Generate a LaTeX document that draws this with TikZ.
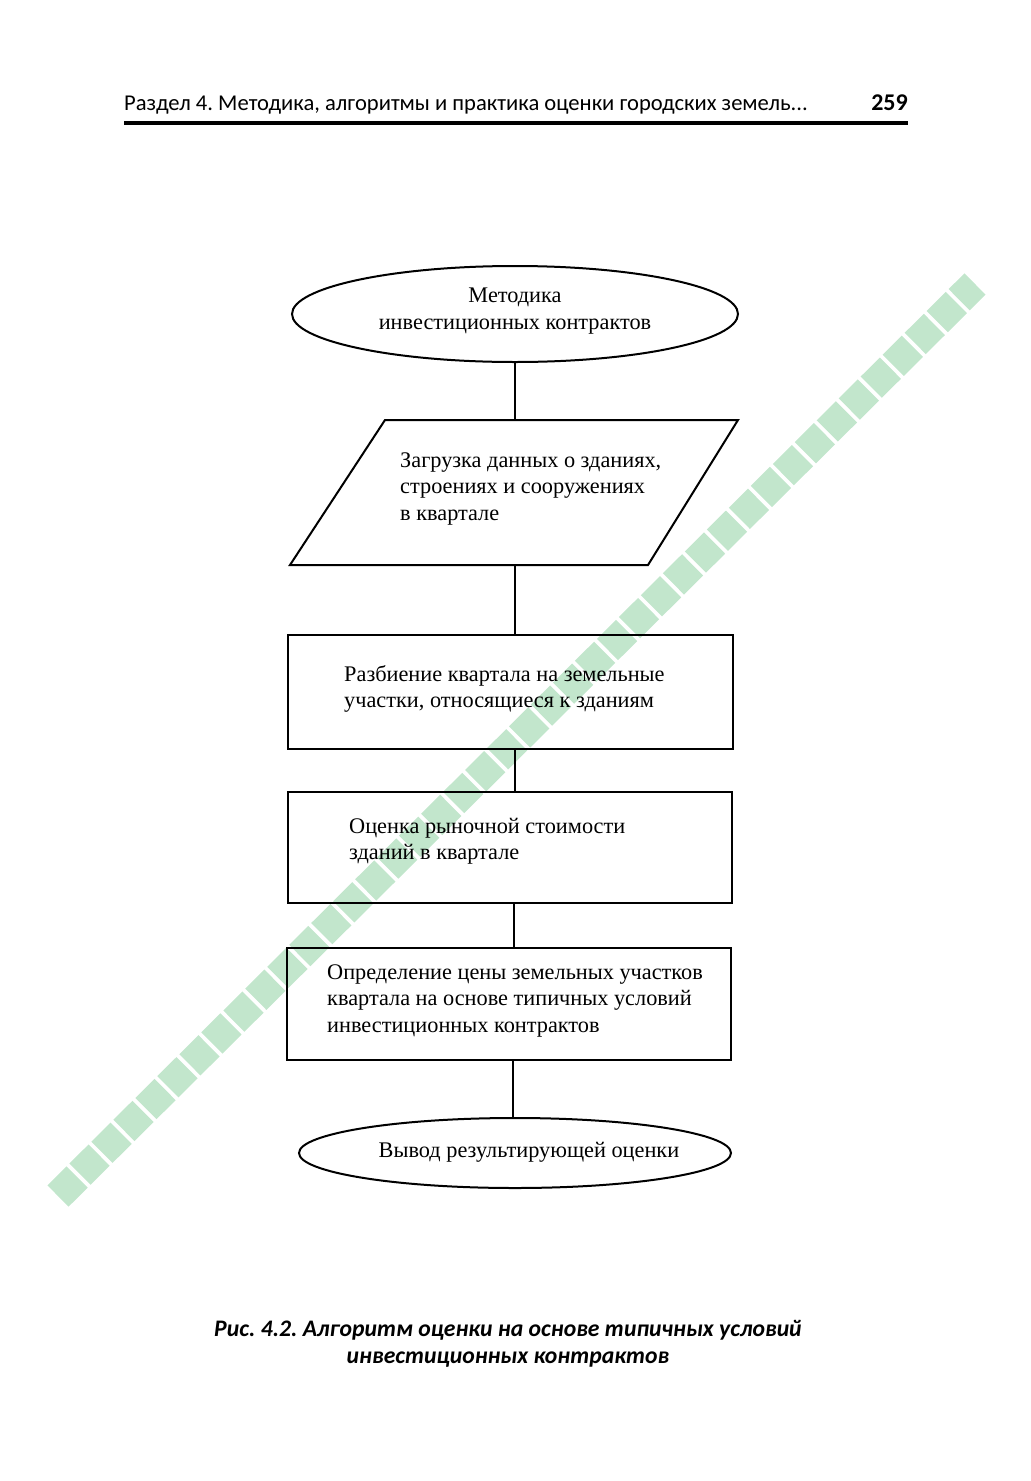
\documentclass[tikz,border=0pt]{standalone}
\usepackage{fontspec}
\setmainfont{Liberation Serif}
\newfontfamily\headfont{Carlito}
\usetikzlibrary{shapes.geometric}
\definecolor{wmgreen}{RGB}{194,230,204}
\tikzset{
  shapeline/.style={draw=black, line width=2pt},
  boxnode/.style={shapeline, rectangle, inner sep=0pt},
  ovalnode/.style={shapeline, ellipse, inner sep=0pt},
  bodytext/.style={font=\fontsize{22.3}{26.5}\selectfont, align=left, inner sep=0pt},
  conn/.style={draw=black, line width=1.6pt},
  wm/.style={draw=wmgreen, line width=30pt, dash pattern=on 27pt off 4pt},
}
\begin{document}
\frenchspacing
\begin{tikzpicture}[x=1pt,y=-1pt]
\useasboundingbox (0,0) rectangle (1031,1481);
% watermark
\coordinate (wmA) at (58,1196);
\coordinate (wmB) at (975,284);
\draw[wm] (wmA) -- (wmB);
% header
\node[anchor=base west, inner sep=0pt, font=\headfont\fontsize{22.6}{26}\selectfont] (head) at (124,110) {Раздел 4. Методика, алгоритмы и практика оценки городских земель...};
\node[anchor=base east, inner sep=0pt, font=\headfont\bfseries\fontsize{24}{26}\selectfont] (pnum) at (908,110) {259};
\coordinate (ruleA) at (124,123);
\coordinate (ruleB) at (908,123);
\draw[line width=3.5pt] (ruleA) -- (ruleB);
% top ellipse
\node[ovalnode, minimum width=446pt, minimum height=96pt] (e1) at (515,314) {};
\node[bodytext, align=center] (e1t) at (515,311) {Методика\\инвестиционных контрактов};
% parallelogram
\coordinate (pA) at (385,420);
\coordinate (pB) at (738,420);
\coordinate (pC) at (648,565);
\coordinate (pD) at (290,565);
\draw[shapeline] (pA) -- (pB) -- (pC) -- (pD) -- cycle;
\coordinate (ptop) at (515,420);
\coordinate (pbot) at (515,565);
\node[bodytext, anchor=base west] (pt) at (400,520) {Загрузка данных о зданиях,\\строениях и сооружениях\\в квартале};
% rectangles
\node[boxnode, minimum width=445pt, minimum height=114pt] (r1) at (510.5,692) {};
\node[bodytext, anchor=base west] (r1t) at (344,707.5) {Разбиение квартала на земельные\\участки, относящиеся к зданиям};
\node[boxnode, minimum width=444pt, minimum height=111pt] (r2) at (510,847.5) {};
\node[bodytext, anchor=base west] (r2t) at (349,859.5) {Оценка рыночной стоимости\\зданий в квартале};
\node[boxnode, minimum width=444pt, minimum height=112pt] (r3) at (509,1004) {};
\node[bodytext, anchor=base west] (r3t) at (327,1032) {Определение цены земельных участков\\квартала на основе типичных условий\\инвестиционных контрактов};
% bottom ellipse
\node[ovalnode, minimum width=432pt, minimum height=70pt] (e2) at (515,1153) {};
\node[bodytext] (e2t) at (529,1152) {Вывод результирующей оценки};
% connectors
\draw[conn] (e1.south) -- (ptop);
\draw[conn] (pbot) -- (pbot |- r1.north);
\draw[conn] (r1.south -| pbot) -- (r2.north -| pbot);
\draw[conn] (r2.south -| 514,0) -- (r3.north -| 514,0);
\draw[conn] (r3.south -| 513,0) -- (e2.north -| 513,0);
% caption
\node[align=center, inner sep=0pt, font=\headfont\bfseries\itshape\fontsize{23.7}{27}\selectfont] (cap) at (508,1344) {Рис. 4.2. Алгоритм оценки на основе типичных условий\\инвестиционных контрактов};
\end{tikzpicture}
\end{document}
